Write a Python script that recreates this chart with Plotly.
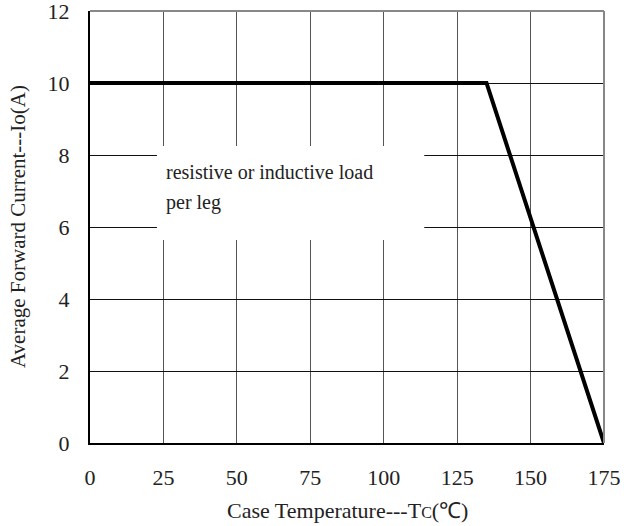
import plotly.graph_objects as go

# Data
temps = [0, 135, 175]
current = [10, 10, 0]
x_ticks = [0, 25, 50, 75, 100, 125, 150, 175]
y_ticks = [0, 2, 4, 6, 8, 10, 12]
note_lines = ["resistive or inductive load", "per leg"]
x_title = "Case Temperature---T<span style='font-size:16px'>C</span>(℃)"
y_title = "Average Forward Current---Io(A)"

FONT = "Liberation Serif"

fig = go.Figure()
fig.add_trace(go.Scatter(x=temps, y=current, mode="lines",
                         line=dict(color="black", width=4), showlegend=False,
                         hoverinfo="skip"))

fig.update_layout(
    width=624, height=526,
    margin=dict(l=90, r=20, t=11, b=83),
    paper_bgcolor="white", plot_bgcolor="white",
    font=dict(family=FONT, color="#222", size=22),
    showlegend=False,
)
fig.update_xaxes(range=[0, 175], tickvals=x_ticks, ticktext=[str(v) for v in x_ticks],
                 showgrid=True, gridcolor="#555", gridwidth=1,
                 showline=True, linecolor="black", linewidth=2,
                 zeroline=False, ticks="", ticklabelstandoff=14,
                 ticklabeloverflow="allow", automargin=False,
                 tickfont=dict(family=FONT, size=22, color="#222"))
fig.update_yaxes(range=[0, 12], tickvals=y_ticks, ticktext=[str(v) for v in y_ticks],
                 showgrid=True, gridcolor="#111", gridwidth=1,
                 showline=True, linecolor="black", linewidth=2,
                 zeroline=False, ticks="", ticklabelstandoff=14,
                 ticklabeloverflow="allow", automargin=False,
                 tickfont=dict(family=FONT, size=22, color="#222"))

# top and right border (gray)
fig.add_shape(type="line", xref="paper", yref="paper", x0=0, x1=1, y0=1, y1=1,
              line=dict(color="#888", width=2), layer="above")
fig.add_shape(type="line", xref="paper", yref="paper", x0=1, x1=1, y0=0, y1=1,
              line=dict(color="#888", width=2), layer="above")

# white note box covering the grid
fig.add_shape(type="rect", xref="x", yref="y", x0=22.8, x1=113.8, y0=5.64, y1=8.25,
              fillcolor="white", line=dict(width=0), layer="above")

fig.add_annotation(x=25.3, y=7.53, xref="x", yref="y", text=note_lines[0],
                   showarrow=False, xanchor="left", yanchor="middle",
                   font=dict(family=FONT, size=20, color="#222"))
fig.add_annotation(x=25.3, y=6.67, xref="x", yref="y", text=note_lines[1],
                   showarrow=False, xanchor="left", yanchor="middle",
                   font=dict(family=FONT, size=20, color="#222"))

# axis titles
fig.add_annotation(x=0.5, y=0, xref="paper", yref="paper", text=x_title,
                   showarrow=False, xanchor="center", yanchor="middle", yshift=-67,
                   font=dict(family=FONT, size=22, color="#222"))
fig.add_annotation(x=0, y=0.5, xref="paper", yref="paper", text=y_title,
                   showarrow=False, xanchor="center", yanchor="middle", xshift=-72,
                   textangle=-90, font=dict(family=FONT, size=21, color="#222"))

fig.write_html("out.html", config={"displayModeBar": False},
               post_script="document.body.style.margin='0';")
